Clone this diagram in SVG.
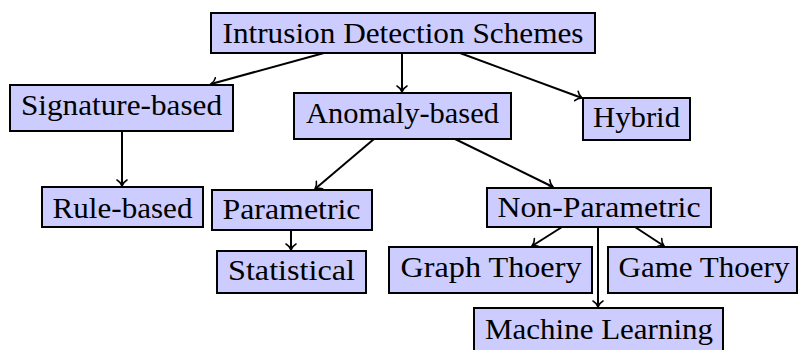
<svg xmlns="http://www.w3.org/2000/svg" width="798" height="350" viewBox="0 0 798 350">
  <style>
    .box { fill: #ccccff; stroke: #000; stroke-width: 2; }
    .lbl { font-family: "Liberation Serif", "Times New Roman", serif; font-size: 30px; fill: #000; text-anchor: middle; }
    .edge { stroke: #000; stroke-width: 2; fill: none; marker-end: url(#tip); }
  </style>
  <defs>
    <marker id="tip" viewBox="-7 -6 9 12" markerWidth="9" markerHeight="12" refX="0" refY="0" orient="auto" markerUnits="userSpaceOnUse">
      <path d="M -6,-5 C -4.5,-2.2 -1.5,-0.6 0,0 C -1.5,0.6 -4.5,2.2 -6,5" fill="none" stroke="#000" stroke-width="1.6" stroke-linecap="round"/>
    </marker>
  </defs>

  <g id="edges">
    <line class="edge" x1="324" y1="53" x2="211" y2="84"/>
    <line class="edge" x1="402" y1="53" x2="402" y2="92"/>
    <line class="edge" x1="460" y1="53" x2="582" y2="98"/>
    <line class="edge" x1="122" y1="131" x2="122" y2="186"/>
    <line class="edge" x1="374" y1="139" x2="315" y2="189"/>
    <line class="edge" x1="455" y1="139" x2="553" y2="187"/>
    <line class="edge" x1="291" y1="230" x2="291" y2="250"/>
    <line class="edge" x1="562" y1="227" x2="532" y2="246"/>
    <line class="edge" x1="598" y1="227" x2="598" y2="307"/>
    <line class="edge" x1="635" y1="227" x2="664" y2="246"/>
  </g>

  <g id="root">
    <rect class="box" x="211" y="13" width="384" height="40"/>
    <text class="lbl" x="403" y="43" textLength="361" lengthAdjust="spacingAndGlyphs">Intrusion Detection Schemes</text>
  </g>
  <g id="signature">
    <rect class="box" x="10" y="85" width="223" height="46"/>
    <text class="lbl" x="121.5" y="115" textLength="201" lengthAdjust="spacingAndGlyphs">Signature-based</text>
  </g>
  <g id="anomaly">
    <rect class="box" x="294" y="93" width="217" height="46"/>
    <text class="lbl" x="402.5" y="123" textLength="193" lengthAdjust="spacingAndGlyphs">Anomaly-based</text>
  </g>
  <g id="hybrid">
    <rect class="box" x="583" y="98" width="107" height="42"/>
    <text class="lbl" x="636.5" y="127" textLength="87" lengthAdjust="spacingAndGlyphs">Hybrid</text>
  </g>
  <g id="rule">
    <rect class="box" x="42" y="187" width="161" height="40"/>
    <text class="lbl" x="122.5" y="218" textLength="140" lengthAdjust="spacingAndGlyphs">Rule-based</text>
  </g>
  <g id="parametric">
    <rect class="box" x="212" y="190" width="160" height="40"/>
    <text class="lbl" x="291.5" y="219" textLength="138" lengthAdjust="spacingAndGlyphs">Parametric</text>
  </g>
  <g id="statistical">
    <rect class="box" x="217" y="251" width="149" height="42"/>
    <text class="lbl" x="291.5" y="280" textLength="127" lengthAdjust="spacingAndGlyphs">Statistical</text>
  </g>
  <g id="nonparametric">
    <rect class="box" x="487" y="188" width="224" height="39"/>
    <text class="lbl" x="599" y="217" textLength="203" lengthAdjust="spacingAndGlyphs">Non-Parametric</text>
  </g>
  <g id="graph">
    <rect class="box" x="389" y="247" width="203" height="46"/>
    <text class="lbl" x="491" y="277" textLength="181" lengthAdjust="spacingAndGlyphs">Graph Thoery</text>
  </g>
  <g id="game">
    <rect class="box" x="608" y="247" width="189" height="46"/>
    <text class="lbl" x="704" y="277" textLength="171" lengthAdjust="spacingAndGlyphs">Game Thoery</text>
  </g>
  <g id="machine">
    <rect class="box" x="474" y="308" width="249" height="46"/>
    <text class="lbl" x="599" y="339" textLength="228" lengthAdjust="spacingAndGlyphs">Machine Learning</text>
  </g>
</svg>
